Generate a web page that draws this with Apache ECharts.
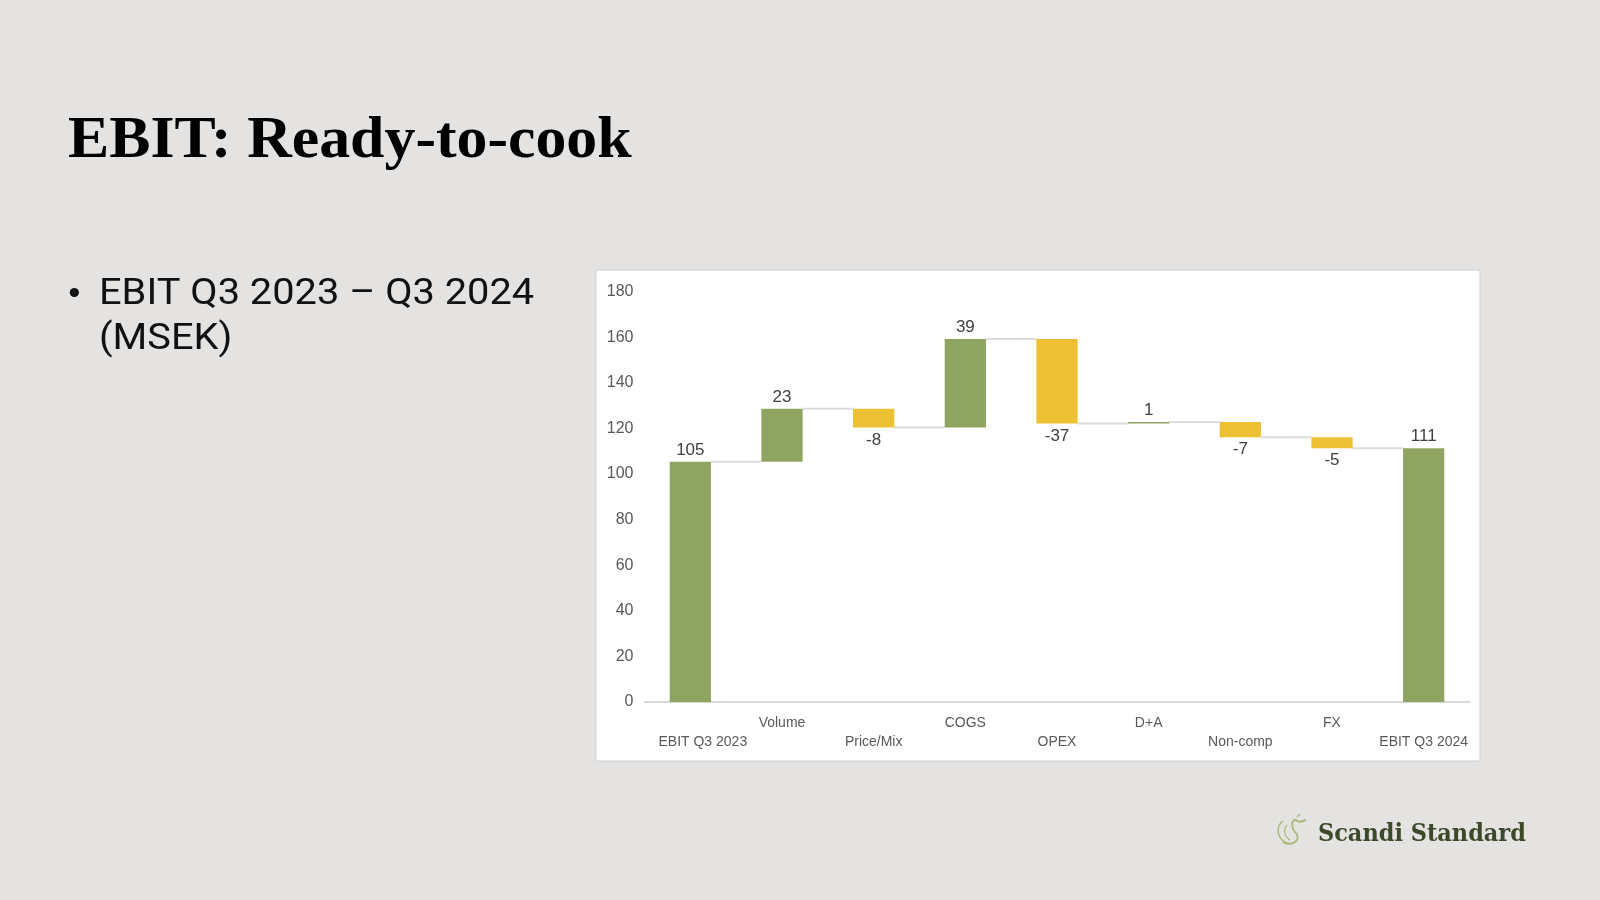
<!DOCTYPE html>
<html>
<head>
<meta charset="utf-8">
<script src="https://cdn.jsdelivr.net/npm/echarts@6/dist/echarts.min.js"></script>
<style>
html,body{margin:0;padding:0;background:#e4e3e1;}
#c{width:1600px;height:900px;}
</style>
</head>
<body>
<div id="c"></div>
<script>
// ---- data ----
const categories = ['EBIT Q3 2023','Volume','Price/Mix','COGS','OPEX','D+A','Non-comp','FX','EBIT Q3 2024'];
const deltas = [105.4, 23.2, -8.2, 38.8, -37.0, 0.6, -6.6, -4.9, 111.3];
const isTotal = [true, false, false, false, false, false, false, false, true];
const yTicks = [0, 20, 40, 60, 80, 100, 120, 140, 160, 180];

// ---- derived waterfall stacks ----
const baseData = [], upData = [], downData = [], levels = [];
let cum = 0;
deltas.forEach((d, i) => {
  if (isTotal[i]) {
    cum = d;
    baseData.push(0); upData.push(d); downData.push('-');
  } else if (d >= 0) {
    baseData.push(cum); upData.push(d); downData.push('-');
    cum += d;
  } else {
    cum += d;
    baseData.push(cum); upData.push('-'); downData.push(-d);
  }
  levels.push(cum);
});
const connectorData = [];
for (let i = 0; i < categories.length - 1; i++) connectorData.push([i, levels[i]]);

const GREEN = '#90a462', YELLOW = '#edbf33';
const BAR_RATIO = 0.45;
const ICON = '#a9b97a';
const chart = echarts.init(document.getElementById('c'));

chart.setOption({
  backgroundColor: '#e4e3e1',
  animation: false,
  graphic: [
    { type: 'rect', z: -10, shape: { x: 596, y: 270, width: 884, height: 491 },
      style: { fill: '#ffffff', stroke: '#cfcfcf', lineWidth: 1 } },
    { type: 'group', x: 68, y: 141.5, scaleX: 1.03, children: [
      { type: 'text', x: 0, y: 0,
        style: { text: 'EBIT: Ready-to-cook', font: 'bold 60px "Liberation Serif"', fill: '#000',
                 verticalAlign: 'middle' } } ] },
    { type: 'circle', shape: { cx: 74.3, cy: 292.5, r: 4.6 }, style: { fill: '#111' } },
    { type: 'group', x: 99, y: 295.3, scaleX: 1.09, children: [
      { type: 'text', x: 0, y: 0,
        style: { text: 'EBIT Q3 2023 – Q3 2024', font: '36.5px Roboto', fill: '#111', verticalAlign: 'middle' } } ] },
    { type: 'group', x: 99, y: 340.3, scaleX: 1.09, children: [
      { type: 'text', x: 0, y: 0,
        style: { text: '(MSEK)', font: '36.5px Roboto', fill: '#111', verticalAlign: 'middle' } } ] },
    { type: 'group', x: 1318, y: 835, scaleX: 0.963, children: [
      { type: 'text', x: 0, y: 0,
        style: { text: 'Scandi Standard', font: 'bold 23.3px "DejaVu Serif"', fill: '#3d4a2a', verticalAlign: 'middle' } } ] },
    { type: 'group', x: 0, y: 3, children: [
      { type: 'bezierCurve', shape: { x1: 1299, y1: 819, cpx1: 1290, cpy1: 812, cpx2: 1291, cpy2: 826, x2: 1296, y2: 830 },
        style: { stroke: ICON, fill: null, lineWidth: 2 } },
      { type: 'bezierCurve', shape: { x1: 1296, y1: 830, cpx1: 1301, cpy1: 837, cpx2: 1293, cpy2: 844, x2: 1283, y2: 839 },
        style: { stroke: ICON, fill: null, lineWidth: 2 } },
      { type: 'bezierCurve', shape: { x1: 1283, y1: 818, cpx1: 1276, cpy1: 823, cpx2: 1276, cpy2: 834, x2: 1286, y2: 840 },
        style: { stroke: ICON, fill: null, lineWidth: 1.5 } },
      { type: 'bezierCurve', shape: { x1: 1287, y1: 822, cpx1: 1283, cpy1: 827, cpx2: 1284, cpy2: 833, x2: 1290, y2: 837 },
        style: { stroke: ICON, fill: null, lineWidth: 1.2 } },
      { type: 'line', shape: { x1: 1299, y1: 819, x2: 1306, y2: 817 },
        style: { stroke: ICON, lineWidth: 2 } },
      { type: 'line', shape: { x1: 1297, y1: 814, x2: 1300, y2: 811 },
        style: { stroke: ICON, lineWidth: 1.2 } }
    ] }
  ],
  grid: { left: 644.5, right: 130.5, top: 291.7, bottom: 198, containLabel: false },
  xAxis: {
    type: 'category', data: categories,
    axisLine: { lineStyle: { color: '#d9d9d9', width: 2 } },
    axisTick: { show: false },
    axisLabel: {
      interval: 0, margin: 12, color: '#595959', fontSize: 14, lineHeight: 19,
      fontFamily: 'Liberation Sans',
      formatter: (v, i) => (i === 0 ? '\n{first|' + v + '}' : (i % 2 === 1 ? v : '\n' + v)),
      rich: {
        first: { padding: [0, 0, 0, 25], color: '#595959', fontSize: 14, lineHeight: 19, fontFamily: 'Liberation Sans' }
      }
    }
  },
  yAxis: {
    type: 'value', min: 0, max: 180, interval: 20,
    axisLine: { show: false }, axisTick: { show: false }, splitLine: { show: false },
    axisLabel: { color: '#595959', fontSize: 16, margin: 11, fontFamily: 'Liberation Sans',
                 formatter: v => yTicks.includes(v) ? String(v) : '' }
  },
  series: [
    { type: 'bar', stack: 'w', data: baseData, barWidth: (BAR_RATIO * 100) + '%',
      itemStyle: { color: 'transparent' }, emphasis: { disabled: true }, silent: true },
    { type: 'bar', stack: 'w', data: upData, barWidth: (BAR_RATIO * 100) + '%',
      itemStyle: { color: GREEN },
      label: { show: true, position: 'top', distance: 3, color: '#404040', fontSize: 17, fontFamily: 'Liberation Sans',
               formatter: p => String(Math.round(p.value)) } },
    { type: 'bar', stack: 'w', data: downData, barWidth: (BAR_RATIO * 100) + '%',
      itemStyle: { color: YELLOW },
      label: { show: true, position: 'bottom', distance: 4, color: '#404040', fontSize: 17, fontFamily: 'Liberation Sans',
               formatter: p => '-' + Math.round(p.value) } },
    { type: 'custom', data: connectorData, encode: { x: 0, y: 1 }, z: 1, silent: true,
      renderItem: (params, api) => {
        const i = api.value(0), lv = api.value(1);
        const p1 = api.coord([i, lv]), p2 = api.coord([i + 1, lv]);
        const half = api.size([1, 0])[0] * BAR_RATIO / 2;
        return { type: 'line', shape: { x1: p1[0] + half, y1: p1[1], x2: p2[0] - half, y2: p2[1] },
                 style: { stroke: '#dcdcdc', lineWidth: 2 } };
      } }
  ]
});
</script>
</body>
</html>
